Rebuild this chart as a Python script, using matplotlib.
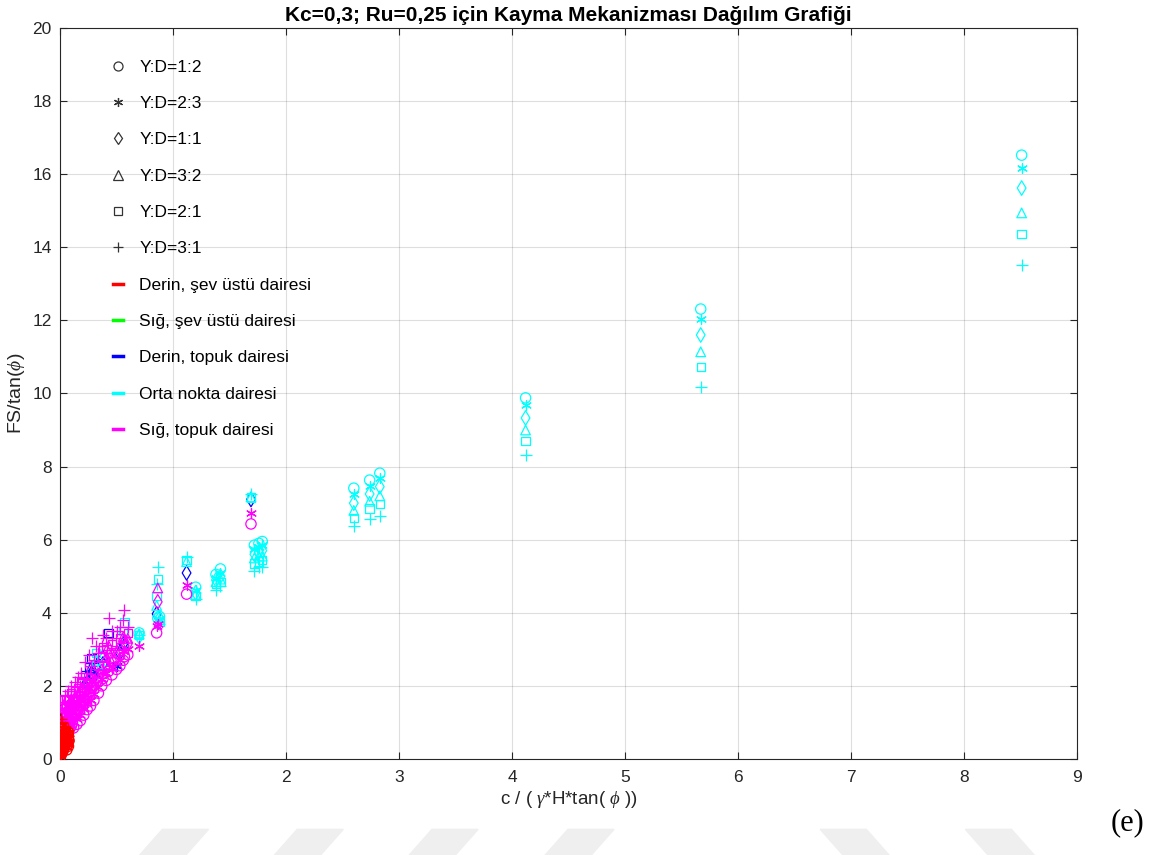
"""
Kayma mekanizmasi dagilim grafigi (Kc=0,3; Ru=0,25).
Six slope ratios (marker) x five failure mechanisms (colour).
"""

import matplotlib
matplotlib.use("Agg")
import matplotlib.pyplot as plt
from matplotlib.lines import Line2D
from matplotlib.patches import Polygon

plt.rcParams["font.family"] = ["Liberation Sans", "DejaVu Sans"]
plt.rcParams["mathtext.fontset"] = "custom"
plt.rcParams["mathtext.it"] = "Liberation Serif:italic"

# c / (gamma*H*tan(phi)) for every analysed case
X = [0.003, 0.006, 0.008, 0.012, 0.015, 0.02, 0.025, 0.03, 0.035, 0.04,
     0.045, 0.05, 0.055, 0.02, 0.04, 0.07, 0.07, 0.09, 0.10, 0.10,
     0.12, 0.13, 0.15, 0.16, 0.18, 0.19, 0.21, 0.22, 0.24, 0.26,
     0.27, 0.28, 0.30, 0.32, 0.34, 0.37, 0.38, 0.41, 0.43, 0.46,
     0.50, 0.53, 0.56, 0.57, 0.60, 0.70, 0.855, 0.865, 0.88, 1.12,
     1.20, 1.38, 1.42, 1.69, 1.72, 1.76, 1.79, 2.60, 2.74, 2.83,
     4.12, 5.67, 8.51, 0.06, 0.065, 0.075, 0.08]

# FS/tan(phi) for each slope ratio Y:D
FS_12 = [0.05, 0.10, 0.20, 0.30, 0.15, 0.35, 0.20, 0.45, 0.28, 0.50,
         0.38, 0.55, 0.45, 1.00, 1.20, 0.80, 1.05, 0.85, 0.90, 1.20,
         0.85, 1.25, 0.95, 1.35, 1.05, 1.50, 1.20, 1.60, 1.35, 1.75,
         1.45, 1.95, 1.60, 2.10, 1.80, 2.00, 2.20, 2.15, 2.40, 2.30,
         2.45, 2.55, 2.70, 2.80, 2.85, 3.45, 3.45, 3.85, 3.90, 4.51,
         4.70, 5.05, 5.20, 6.43, 5.85, 5.90, 5.95, 7.41, 7.63, 7.82,
         9.88, 12.31, 16.52, 0.25, 0.40, 0.35, 0.50]
FS_23 = [0.08, 0.15, 0.28, 0.40, 0.22, 0.45, 0.30, 0.55, 0.36, 0.58,
         0.46, 0.62, 0.52, 1.10, 1.30, 0.92, 1.18, 0.95, 1.05, 1.35,
         1.00, 1.40, 1.10, 1.50, 1.20, 1.65, 1.38, 1.78, 1.50, 1.95,
         1.62, 2.15, 1.78, 2.30, 1.98, 2.20, 2.40, 2.35, 2.60, 2.50,
         2.55, 2.70, 2.95, 2.95, 3.00, 3.10, 3.65, 3.70, 3.82, 4.76,
         4.62, 4.95, 5.10, 6.72, 5.75, 5.80, 5.85, 7.25, 7.48, 7.68,
         9.69, 12.04, 16.17, 0.32, 0.48, 0.42, 0.58]
FS_11 = [0.12, 0.22, 0.38, 0.52, 0.30, 0.58, 0.42, 0.65, 0.45, 0.68,
         0.55, 0.70, 0.60, 1.20, 1.40, 1.05, 1.30, 1.08, 1.20, 1.50,
         1.15, 1.55, 1.25, 1.65, 1.38, 1.80, 1.55, 1.95, 1.68, 2.10,
         1.80, 2.35, 1.95, 2.50, 2.15, 2.40, 2.60, 2.55, 2.85, 2.70,
         2.75, 2.90, 3.15, 3.10, 3.15, 3.35, 3.97, 4.30, 3.85, 5.09,
         4.55, 4.90, 5.00, 7.10, 5.60, 5.65, 5.70, 7.00, 7.25, 7.45,
         9.33, 11.60, 15.62, 0.40, 0.56, 0.50, 0.66]
FS_32 = [0.15, 0.30, 0.48, 0.65, 0.40, 0.70, 0.52, 0.75, 0.55, 0.78,
         0.64, 0.80, 0.68, 1.30, 1.52, 1.18, 1.45, 1.22, 1.35, 1.65,
         1.30, 1.70, 1.42, 1.80, 1.55, 1.95, 1.72, 2.10, 1.85, 2.30,
         2.00, 2.55, 2.15, 2.70, 2.35, 2.60, 2.85, 2.78, 3.10, 2.90,
         2.95, 3.10, 3.35, 3.30, 3.30, 3.42, 4.20, 4.68, 3.80, 5.40,
         4.50, 4.85, 4.92, 7.17, 5.50, 5.55, 5.55, 6.80, 7.05, 7.20,
         9.00, 11.14, 14.94, 0.48, 0.64, 0.58, 0.74]
FS_21 = [0.20, 0.38, 0.60, 0.80, 0.50, 0.85, 0.65, 0.88, 0.68, 0.90,
         0.75, 0.92, 0.78, 1.40, 1.62, 1.32, 1.60, 1.38, 1.50, 1.80,
         1.45, 1.85, 1.60, 1.95, 1.72, 2.10, 1.90, 2.30, 2.05, 2.50,
         2.20, 2.75, 2.35, 2.90, 2.55, 2.80, 3.05, 3.00, 3.45, 3.15,
         3.20, 3.30, 3.50, 3.73, 3.45, 3.40, 4.45, 4.92, 3.75, 5.45,
         4.45, 4.78, 4.85, 7.15, 5.35, 5.40, 5.45, 6.60, 6.85, 6.98,
         8.70, 10.72, 14.36, 0.56, 0.72, 0.66, 0.82]
FS_31 = [0.28, 0.50, 0.75, 1.10, 0.62, 1.02, 0.80, 1.00, 0.82, 1.05,
         0.88, 1.05, 0.90, 1.55, 1.75, 1.52, 1.85, 1.58, 1.75, 2.00,
         1.70, 2.10, 1.85, 2.25, 2.00, 2.35, 2.20, 2.65, 2.35, 2.85,
         2.55, 3.30, 2.70, 3.10, 2.90, 3.10, 3.40, 3.30, 3.87, 3.50,
         3.50, 3.60, 3.80, 4.07, 3.60, 3.38, 4.80, 5.25, 3.70, 5.52,
         4.38, 4.62, 4.72, 7.25, 5.15, 5.25, 5.25, 6.37, 6.57, 6.65,
         8.32, 10.18, 13.52, 0.66, 0.85, 0.78, 0.95]

# failure mechanism per case and ratio (r/g/b/c/m, order 1:2 2:3 1:1 3:2 2:1 3:1)
MECH = ["rrrrrr", "rrrrrr", "rrrrrr", "rrrrrr", "rrrrrr", "rrrrrr", "rrrrrr",
        "rrrrrm", "rrrrrr", "rrrrmm", "rrrrrr", "rrrmmm", "rrrrrm", "mmmmmm",
        "mmmmmm", "mmmmmm", "mmmmmm", "mmmmmm", "mmmmmm", "mmmmmm", "mmmmmm",
        "mmmmmm", "mmmmmm", "mmmmmm", "mmmmmm", "mmmmmm", "mmmmmm", "mmmbbm",
        "mmmmmm", "mmbbbm", "mmmmmm", "mmbbbm", "mmmmmm", "mbbccm", "mmmmmm",
        "mmmcmm", "mmbbmm", "mmmmmm", "mmmmbm", "mmmmmm", "mbmmmm", "mmbmmm",
        "mmbmcm", "mmbmcm", "mmmmmm", "cmcccc", "mmbccc", "cmmmcc", "cccccc",
        "mmbccc", "cccccc", "cccccc", "cccccc", "mmbccc", "cccccc", "cccccc",
        "cccccc", "cccccc", "cccccc", "cccccc", "cccccc", "cccccc", "cccccc",
        "rrrrrr", "rrrrrm", "rrrrrr", "rrrrmm"]

RATIOS = ["Y:D=1:2", "Y:D=2:3", "Y:D=1:1", "Y:D=3:2", "Y:D=2:1", "Y:D=3:1"]
MECH_CODES = ["r", "g", "b", "c", "m"]
MECH_LABELS = ["Derin, şev üstü dairesi", "Sığ, şev üstü dairesi",
               "Derin, topuk dairesi", "Orta nokta dairesi", "Sığ, topuk dairesi"]

COLORS = {"r": "#ff0000", "g": "#00ff00", "b": "#0000ff",
          "c": "#00ffff", "m": "#ff00ff"}
MARKERS = ["o", (6, 2, 0), "d", "^", "s", "+"]
SIZES = [55, 50, 55, 48, 36, 75]
DRAW_ORDER = ["g", "b", "c", "m", "r"]

fig = plt.figure(figsize=(11.52, 8.55), dpi=100)
ax = fig.add_axes([0.0521, 0.1123, 0.8828, 0.855])

series = [FS_12, FS_23, FS_11, FS_32, FS_21, FS_31]
for code in DRAW_ORDER:
    for i, fs in enumerate(series):
        xs = [X[k] for k in range(len(X)) if MECH[k][i] == code]
        ys = [fs[k] for k in range(len(X)) if MECH[k][i] == code]
        if not xs:
            continue
        if MARKERS[i] == "+" or isinstance(MARKERS[i], tuple):
            ax.scatter(xs, ys, marker=MARKERS[i], s=SIZES[i],
                       color=COLORS[code], linewidths=0.9, zorder=3)
        else:
            ax.scatter(xs, ys, marker=MARKERS[i], s=SIZES[i],
                       facecolors="none", edgecolors=COLORS[code],
                       linewidths=0.9, zorder=3)

ax.set_xlim(0, 9)
ax.set_ylim(0, 20)
ax.set_xticks(range(0, 10))
ax.set_yticks(range(0, 21, 2))
ax.grid(True, color="#262626", alpha=0.15, linewidth=0.8)
ax.set_axisbelow(True)
ax.tick_params(direction="in", length=5, colors="#262626", labelsize=12.5,
               top=True, right=True, labeltop=False, labelright=False)
ax.tick_params(axis="x", pad=8)
ax.tick_params(axis="y", pad=6)
for sp in ax.spines.values():
    sp.set_color("#262626")
    sp.set_linewidth(0.8)

ax.set_xlabel(r"c / ( $\gamma$*H*tan( $\phi$ ))", fontsize=13.5, color="#262626",
              labelpad=3)
ax.set_ylabel(r"FS/tan($\phi$)", fontsize=14, color="#262626", labelpad=4)
ax.set_title("Kc=0,3; Ru=0,25 için Kayma Mekanizması Dağılım Grafiği",
             fontsize=15, fontweight="bold", pad=5)

handles = []
for i, lab in enumerate(RATIOS):
    handles.append(Line2D([], [], linestyle="none", marker=MARKERS[i],
                          markersize=6.5 if MARKERS[i] != "s" else 5.5,
                          markerfacecolor="none", markeredgecolor="#333333",
                          color="#333333", markeredgewidth=0.9, label=lab))
for code, lab in zip(MECH_CODES, MECH_LABELS):
    handles.append(Line2D([], [], color=COLORS[code], linewidth=2.5, label=lab))

ax.legend(handles=handles, loc="upper left", bbox_to_anchor=(0.037, 0.978),
          frameon=False, fontsize=12.5, labelspacing=1.22, handlelength=0.55,
          handletextpad=0.95)

fig.text(0.993, 0.038, "(e)", fontsize=22, family="Liberation Serif",
         ha="right", va="center")

# faint page watermark strips
shade = "#efefef"
for x0 in [0.118, 0.235, 0.352, 0.470]:
    fig.patches.append(Polygon([[x0 + 0.023, 0.030], [x0 + 0.063, 0.030],
                                [x0 + 0.040, -0.005], [x0, -0.005]],
                               closed=True, transform=fig.transFigure,
                               color=shade, zorder=0))
for x0 in [0.712, 0.838]:
    fig.patches.append(Polygon([[x0, 0.030], [x0 + 0.040, 0.030],
                                [x0 + 0.063, -0.005], [x0 + 0.023, -0.005]],
                               closed=True, transform=fig.transFigure,
                               color=shade, zorder=0))

fig.savefig("out.png", dpi=100)
plt.close(fig)
